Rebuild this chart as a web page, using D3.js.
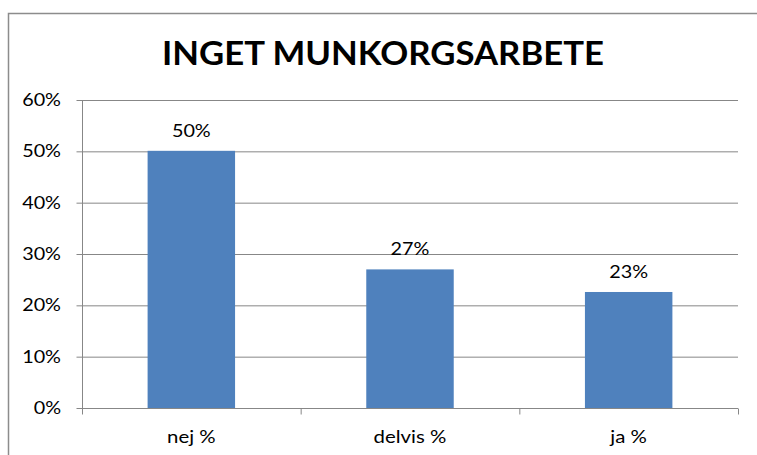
<!DOCTYPE html>
<html><head><meta charset="utf-8">
<script src="https://cdn.jsdelivr.net/npm/d3@7"></script>
<style>body{margin:0;background:#fff}svg{display:block}text{font-family:Lato,"Open Sans",sans-serif}</style>
</head><body><svg id="c" width="757" height="455"></svg>
<script>
const title = "INGET MUNKORGSARBETE";
const categories = ["nej %", "delvis %", "ja %"];
const values = [50.1, 27.0, 22.6];
const yTicks = [0, 10, 20, 30, 40, 50, 60];

const svg = d3.select("#c");
const m = {l: 82, r: 738, t: 100, b: 408};
const x = d3.scaleBand().domain(categories).range([m.l, m.r]).paddingInner(0.6).paddingOuter(0.3);
const xb = d3.scaleBand().domain(categories).range([m.l, m.r]);
const y = d3.scaleLinear().domain([0, 60]).range([m.b, m.t]);
const SX = 1.2;

function label(g, px, py, txt, anchor, size, sx, weight) {
  return g.append("text").attr("transform", `translate(${px},${py}) scale(${sx},1)`)
    .attr("text-anchor", anchor).attr("font-size", size).attr("font-weight", weight || "normal")
    .attr("fill", "#000").text(txt);
}

// outer frame
svg.append("rect").attr("x", 8.5).attr("y", 13.5).attr("width", 800).attr("height", 500)
  .attr("fill", "none").attr("stroke", "#8c8c8c").attr("stroke-width", 1.5);

label(svg, 383, 65, title, "middle", 32, 1.085, "bold");

// grid
svg.append("g").selectAll("line").data(yTicks.filter(d => d > 0)).join("line")
  .attr("x1", m.l).attr("x2", m.r).attr("y1", d => y(d) + 0.5).attr("y2", d => y(d) + 0.5)
  .attr("stroke", "#878787").attr("stroke-width", 1);

// bars
svg.append("g").selectAll("rect").data(values).join("rect")
  .attr("x", (d, i) => x(categories[i])).attr("width", x.bandwidth())
  .attr("y", d => y(d)).attr("height", d => y(0) - y(d)).attr("fill", "#4F81BD");

// y axis (lines via d3 axis, labels drawn separately)
const ya = svg.append("g").attr("transform", `translate(${m.l + 0.5},0)`)
  .call(d3.axisLeft(y).tickValues(yTicks).tickFormat("").tickSize(6));
ya.select(".domain").attr("stroke", "#878787").attr("d", `M0,${m.t}V${m.b}`);
ya.selectAll(".tick line").attr("stroke", "#878787");
const yl = svg.append("g");
yTicks.forEach(t => label(yl, m.l - 21, y(t) + 6, t + "%", "end", 16.5, SX));

// x axis
const xa = svg.append("g").attr("transform", `translate(0,${m.b + 0.5})`);
xa.append("line").attr("x1", m.l).attr("x2", m.r).attr("stroke", "#878787");
xa.selectAll(".bt").data([...categories.map(c => xb(c)), m.r]).join("line").attr("class", "bt")
  .attr("x1", d => d + 0.5).attr("x2", d => d + 0.5).attr("y1", 0).attr("y2", 6).attr("stroke", "#878787");
const xl = svg.append("g");
categories.forEach(c => label(xl, xb(c) + xb.bandwidth() / 2, m.b + 35, c, "middle", 17, SX));

// value labels
const vl = svg.append("g");
values.forEach((v, i) => label(vl, x(categories[i]) + x.bandwidth() / 2, y(v) - 14,
  Math.round(v) + "%", "middle", 16.5, SX));
</script></body></html>
